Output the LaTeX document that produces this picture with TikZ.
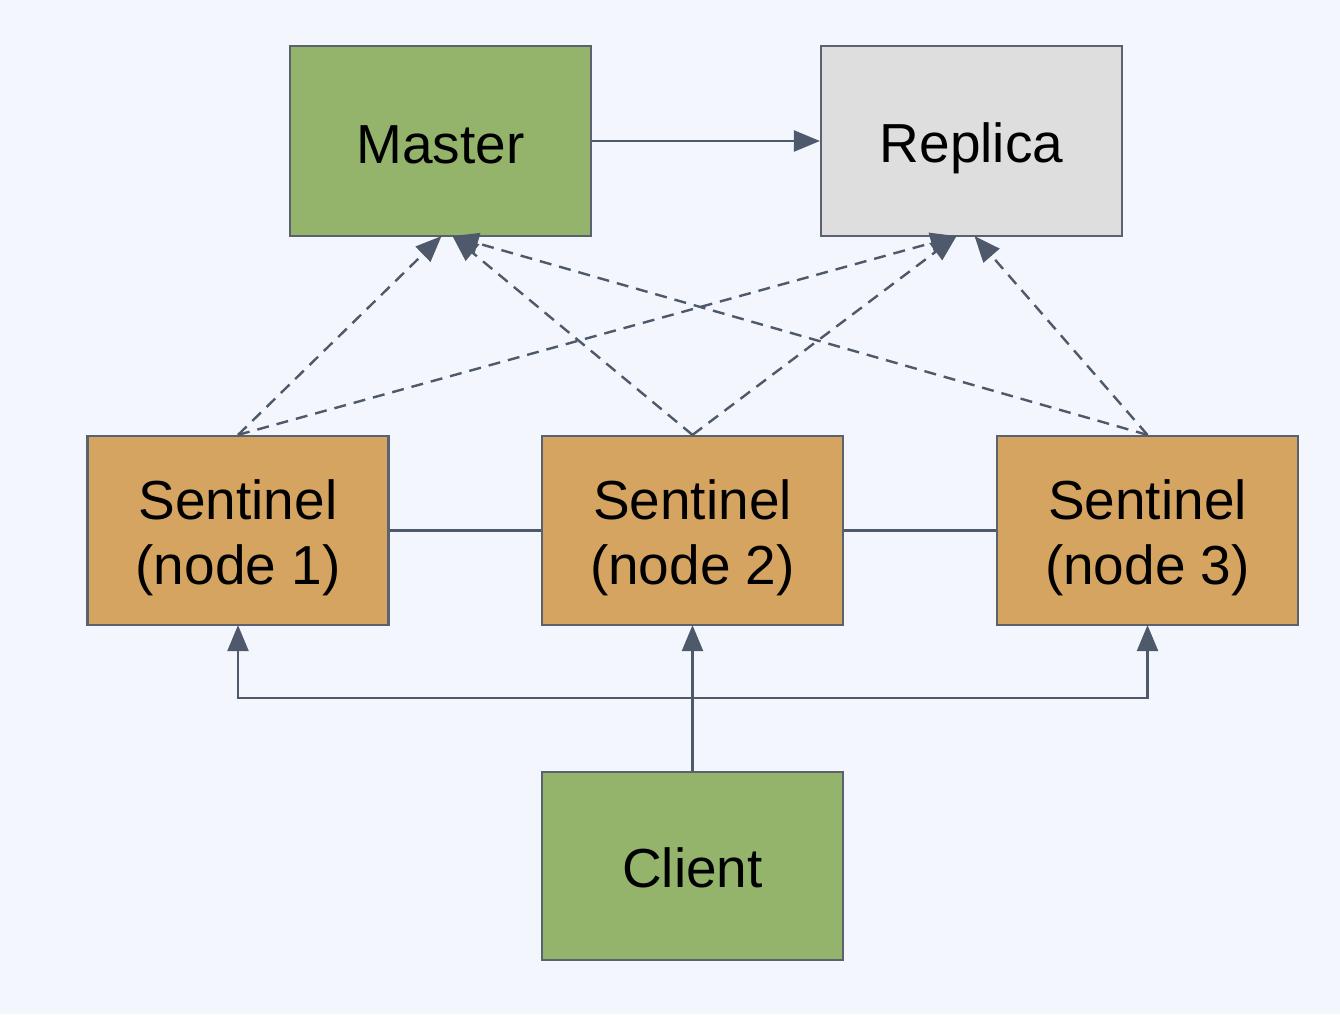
\documentclass[tikz,border=0pt]{standalone}
\usepackage{fontspec}
\setmainfont{Liberation Sans}
\usetikzlibrary{arrows.meta}
\definecolor{bgc}{HTML}{F3F6FD}
\definecolor{greenc}{HTML}{93B46A}
\definecolor{greyc}{HTML}{DEDEDE}
\definecolor{orangec}{HTML}{D5A460}
\definecolor{edgec}{HTML}{5A6270}
\definecolor{arrc}{HTML}{4E596B}
\begin{document}
\begin{tikzpicture}[x=1pt,y=-1pt,
  box/.style={draw=edgec,line width=2.2pt,minimum width=301pt,minimum height=190pt,inner sep=0pt},
  lbl/.style={font=\fontsize{55}{65}\selectfont,align=center,text=black,inner sep=0pt},
  conn/.style={draw=arrc,line width=2.4pt},
  arr/.style={conn,-{Triangle[length=26pt,width=21pt]}},
  darr/.style={arr,dash pattern=on 12pt off 8pt}]
\fill[bgc] (0,0) rectangle (1340,1014);
\useasboundingbox (0,0) rectangle (1340,1014);
\node[box,fill=greenc] (master) at (440.5,141) {};
\node[box,fill=greyc] (replica) at (971.5,141) {};
\node[box,fill=orangec,minimum height=189pt] (s1) at (238,530.5) {};
\node[box,fill=orangec,minimum height=189pt] (s2) at (692.5,530.5) {};
\node[box,fill=orangec,minimum height=189pt] (s3) at (1147.5,530.5) {};
\node[box,fill=greenc,minimum height=188pt] (client) at (692.5,866) {};
\node[lbl,anchor=base] (mastert) at (440.5,163) {Master};
\node[lbl,anchor=base] (replicat) at (971.5,162.5) {Replica};
\node[lbl,anchor=base] (clientt) at (692.5,887.5) {Client};
\node[lbl] (s1t) at ([yshift=-7pt]s1.center) {Sentinel\\(node 1)};
\node[lbl] (s2t) at ([yshift=-7pt]s2.center) {Sentinel\\(node 2)};
\node[lbl] (s3t) at ([yshift=-7pt]s3.center) {Sentinel\\(node 3)};
\draw[arr] (master.east) -- (replica.west);
\draw[conn] (s1.east) -- (s2.west);
\draw[conn] (s2.east) -- (s3.west);
\draw[darr] (s1.north) -- ([xshift=1pt,yshift=1pt]master.south);
\draw[darr] (s2.north) -- ([xshift=12pt,yshift=1pt]master.south);
\draw[darr] (s3.north) -- ([xshift=12pt,yshift=1pt]master.south);
\draw[darr] (s1.north) -- ([xshift=-15pt,yshift=1pt]replica.south);
\draw[darr] (s2.north) -- ([xshift=-15pt,yshift=1pt]replica.south);
\draw[darr] (s3.north) -- ([xshift=3pt,yshift=1pt]replica.south);
\coordinate (j) at (692.5,698);
\draw[arr] (client.north) -- ([yshift=1pt]s2.south);
\draw[arr] (j) -| ([yshift=1pt]s1.south);
\draw[arr] (j) -| ([yshift=1pt]s3.south);
\end{tikzpicture}
\end{document}
